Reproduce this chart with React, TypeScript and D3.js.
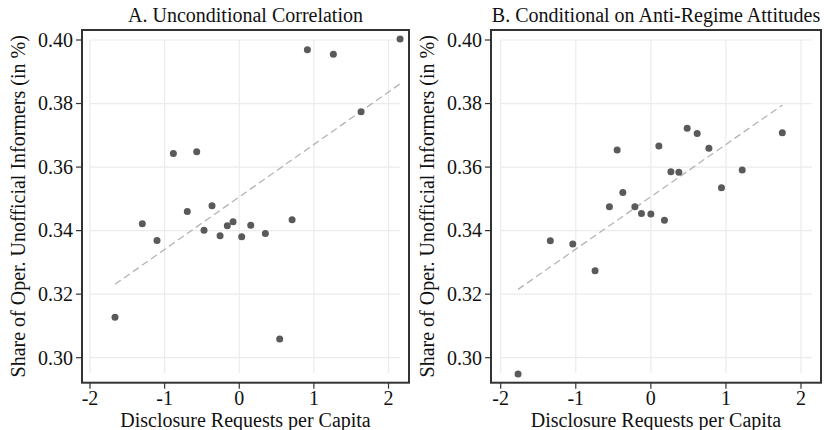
import React, { useEffect, useRef } from 'react';
import * as d3 from 'd3';

// Panel A: unconditional correlation
const xA = [2.155, 0.913, 1.261, 1.633, -0.883, -0.570, -0.696, -0.365, -1.299, -1.102,
  -0.472, -0.257, -0.160, -0.083, 0.033, 0.154, 0.350, 0.708, -1.665, 0.542];
const yA = [0.4003, 0.3969, 0.3955, 0.3774, 0.3643, 0.3648, 0.3460, 0.3478, 0.3422, 0.3369,
  0.3401, 0.3384, 0.3415, 0.3428, 0.3381, 0.3417, 0.3391, 0.3434, 0.3127, 0.3059];
const fitA = [[-1.665, 0.3231], [2.155, 0.3862]];

// Panel B: conditional on anti-regime attitudes
const xB = [1.751, 0.484, 0.617, 0.773, 0.107, -0.449, 0.267, 0.373, 1.217, 0.941,
  -0.373, -0.552, -0.213, -0.125, 0.000, 0.181, -1.339, -1.040, -0.743, -1.769];
const yB = [0.3708, 0.3722, 0.3706, 0.3659, 0.3666, 0.3654, 0.3585, 0.3584, 0.3591, 0.3535,
  0.3520, 0.3475, 0.3475, 0.3454, 0.3452, 0.3433, 0.3368, 0.3358, 0.3274, 0.2949];
const fitB = [[-1.769, 0.3215], [1.751, 0.3795]];

const xTicks = [-2, -1, 0, 1, 2];
const yTicks = [0.30, 0.32, 0.34, 0.36, 0.38, 0.40];

const titles = ['A. Unconditional Correlation', 'B. Conditional on Anti-Regime Attitudes'];
const xLabel = 'Disclosure Requests per Capita';
const yLabel = 'Share of Oper. Unofficial Informers (in %)';

const FONT = '"Liberation Serif", "Times New Roman", serif';

export default function App() {
  const ref = useRef<SVGSVGElement>(null);

  useEffect(() => {
    const svg = d3.select(ref.current);
    svg.selectAll('*').remove();

    const panels = [
      { xs: xA, ys: yA, fit: fitA, box: [82, 409], xr: [90, 388.5], grid: [90, 400], title: titles[0] },
      { xs: xB, ys: yB, fit: fitB, box: [491, 821], xr: [500.7, 801], grid: [500.7, 812], title: titles[1] },
    ];
    const top = 30, bottom = 382.7;

    const y = d3.scaleLinear().domain([0.30, 0.40]).range([357.7, 40]);

    panels.forEach(p => {
      const x = d3.scaleLinear().domain([-2, 2]).range(p.xr);
      const g = svg.append('g');

      // grid
      g.selectAll('line.hg').data(yTicks).enter().append('line')
        .attr('x1', p.grid[0]).attr('x2', p.grid[1])
        .attr('y1', d => y(d)).attr('y2', d => y(d))
        .attr('stroke', '#ebebeb').attr('stroke-width', 1.2);
      g.selectAll('line.vg').data(xTicks).enter().append('line')
        .attr('x1', d => x(d)).attr('x2', d => x(d))
        .attr('y1', 40).attr('y2', 373)
        .attr('stroke', '#ebebeb').attr('stroke-width', 1.2);

      // fit line
      g.append('line')
        .attr('x1', x(p.fit[0][0])).attr('y1', y(p.fit[0][1]))
        .attr('x2', x(p.fit[1][0])).attr('y2', y(p.fit[1][1]))
        .attr('stroke', '#b4b4b4').attr('stroke-width', 1.3)
        .attr('stroke-dasharray', '7,4');

      // points
      g.selectAll('circle').data(p.xs).enter().append('circle')
        .attr('cx', d => x(d)).attr('cy', (d, i) => y(p.ys[i]))
        .attr('r', 3.5).attr('fill', '#5a5a5a');

      // box
      g.append('rect')
        .attr('x', p.box[0]).attr('y', top)
        .attr('width', p.box[1] - p.box[0]).attr('height', bottom - top)
        .attr('fill', 'none').attr('stroke', '#333').attr('stroke-width', 2);

      // y axis ticks
      g.selectAll('line.yt').data(yTicks).enter().append('line')
        .attr('x1', p.box[0] - 6).attr('x2', p.box[0])
        .attr('y1', d => y(d)).attr('y2', d => y(d))
        .attr('stroke', '#333').attr('stroke-width', 1.2);
      g.selectAll('text.yt').data(yTicks).enter().append('text')
        .attr('x', p.box[0] - 9).attr('y', d => y(d))
        .attr('dy', '0.34em').attr('text-anchor', 'end')
        .attr('font-family', FONT).attr('font-size', 20).attr('fill', '#111')
        .text(d => d.toFixed(2));

      // x axis ticks
      g.selectAll('line.xt').data(xTicks).enter().append('line')
        .attr('x1', d => x(d)).attr('x2', d => x(d))
        .attr('y1', bottom).attr('y2', bottom + 6)
        .attr('stroke', '#333').attr('stroke-width', 1.2);
      g.selectAll('text.xt').data(xTicks).enter().append('text')
        .attr('x', d => x(d)).attr('y', 405)
        .attr('text-anchor', 'middle')
        .attr('font-family', FONT).attr('font-size', 20).attr('fill', '#111')
        .text(d => String(d));

      const cx = (p.box[0] + p.box[1]) / 2;
      g.append('text')
        .attr('x', cx).attr('y', 22).attr('text-anchor', 'middle')
        .attr('font-family', FONT).attr('font-size', 20).attr('fill', '#111')
        .text(p.title);
      g.append('text')
        .attr('x', cx).attr('y', 427).attr('text-anchor', 'middle')
        .attr('font-family', FONT).attr('font-size', 20).attr('fill', '#111')
        .text(xLabel);
      g.append('text')
        .attr('transform', `translate(${p.box[0] - 57},${(top + bottom) / 2}) rotate(-90)`)
        .attr('text-anchor', 'middle')
        .attr('font-family', FONT).attr('font-size', 20).attr('fill', '#111')
        .text(yLabel);
    });
  }, []);

  return (
    <svg ref={ref} width={824} height={430}
      style={{ position: 'absolute', left: 0, top: 0, background: '#fff' }} />
  );
}
